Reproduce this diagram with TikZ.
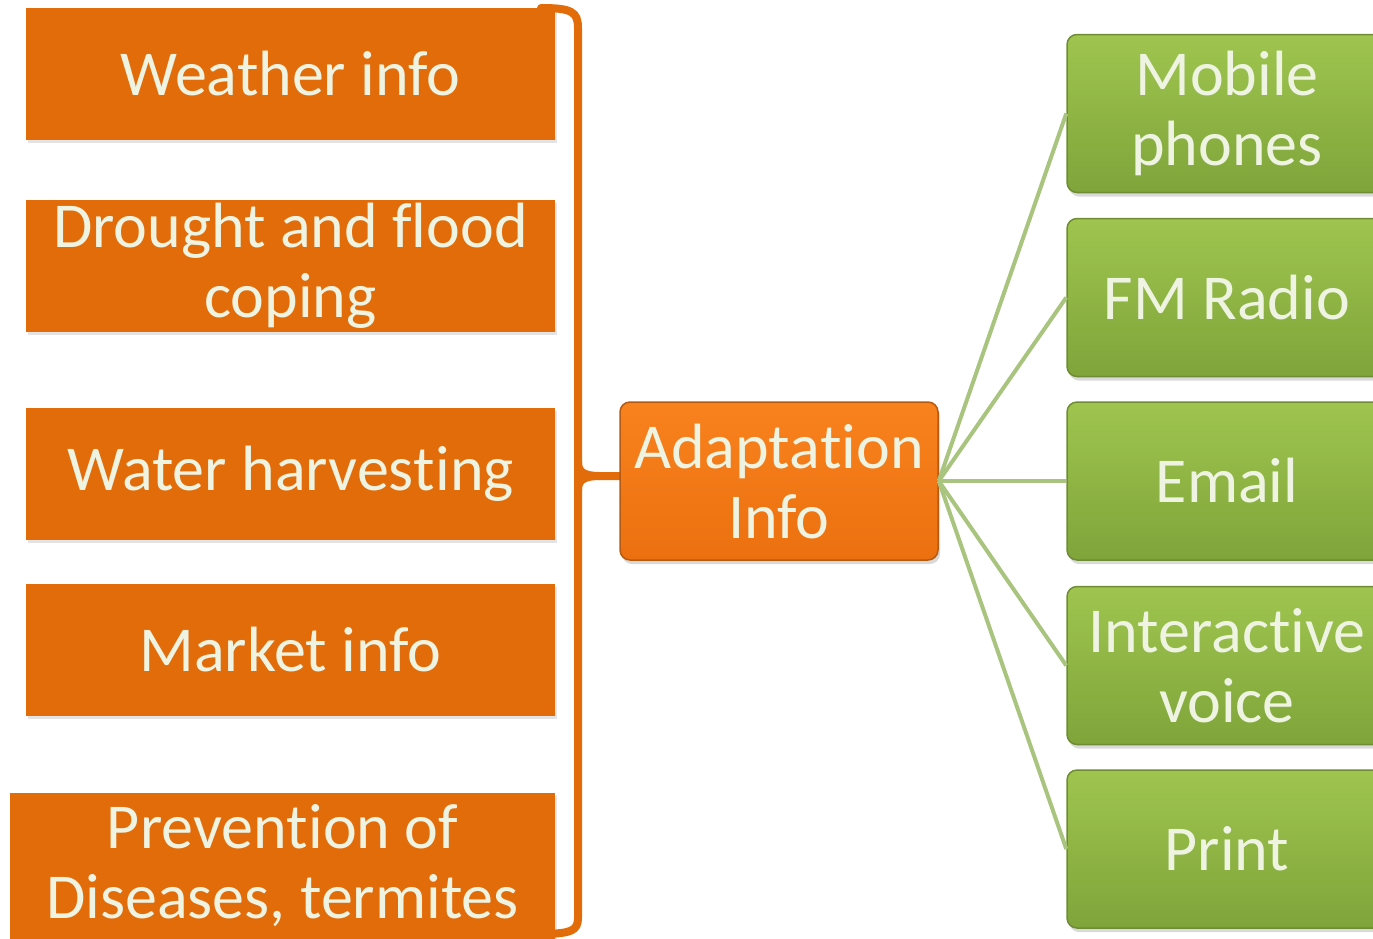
\documentclass[tikz,border=0pt]{standalone}
\usepackage{fontspec}
\setmainfont{Carlito}[RawFeature={-liga;-clig;-calt;-dlig}]
\usetikzlibrary{shadows}
\definecolor{topicorange}{HTML}{E36C0A}
\definecolor{hubtop}{HTML}{F8821E}
\definecolor{hubbot}{HTML}{EC700F}
\definecolor{hubedge}{HTML}{B65A12}
\definecolor{chantop}{HTML}{9FC54F}
\definecolor{chanbot}{HTML}{7FA43A}
\definecolor{chanedge}{HTML}{6F8C35}
\definecolor{linkgreen}{HTML}{A9C47F}
\definecolor{labelcream}{HTML}{EEF3E2}
% zero-width break that keeps letter pairs such as "ti" and "fl" apart
\newcommand\nolig{\kern0pt }
\tikzset{
  label text/.style={text=labelcream, align=center,
    font=\fontsize{64}{70}\selectfont},
  topicbox/.style={label text, fill=topicorange, inner sep=0pt,
    drop shadow={opacity=0.22, shadow xshift=2pt, shadow yshift=-3pt}},
  hubbox/.style={label text, rounded corners=10pt, draw=hubedge, line width=1.5pt,
    top color=hubtop, bottom color=hubbot, minimum width=318pt, minimum height=158pt,
    inner sep=0pt,
    drop shadow={opacity=0.3, shadow xshift=2pt, shadow yshift=-4pt}},
  chanbox/.style={label text, rounded corners=10pt, draw=chanedge, line width=1.5pt,
    top color=chantop, bottom color=chanbot, minimum width=320pt, minimum height=158pt,
    inner sep=0pt,
    drop shadow={opacity=0.3, shadow xshift=2pt, shadow yshift=-4pt}},
  link/.style={draw=linkgreen, line width=4pt},
  brace/.style={draw=topicorange, line width=8pt, line cap=round}
}
\begin{document}
\begin{tikzpicture}[x=1pt,y=-1pt]
\useasboundingbox (0,0) rectangle (1373,938);

% topics on the left
\node[topicbox, minimum width=529pt, minimum height=132pt] (weather) at (290.5,74) {Weather info};
\node[topicbox, minimum width=529pt, minimum height=132pt] (drought) at (290.5,266) {Drought and f\nolig lood\\coping};
\node[topicbox, minimum width=529pt, minimum height=132pt] (water) at (290.5,474) {Water harves\nolig ting};
\node[topicbox, minimum width=529pt, minimum height=132pt] (market) at (290.5,650) {Market info};
\node[topicbox, minimum width=545pt, minimum height=146pt] (disease) at (282.5,866) {Preven\nolig tion of\\Diseases, termites};

% brace gathering the topics
\draw[brace] (541,8) .. controls (572,8) and (578,12) .. (578,28)
  -- (578,918) .. controls (578,931) and (570,933) .. (547,934);
\draw[brace, line cap=butt] (578,462) .. controls (578,472) and (584,476) .. (600,476) -- (622,476);
\draw[brace, line cap=butt] (578,490) .. controls (578,480) and (584,476) .. (600,476);

% central node
\node[hubbox] (hub) at (779,481) {Adapta\nolig tion\\Info};

% channels on the right
\node[chanbox] (mobile) at (1227,113.5) {Mobile\\phones};
\node[chanbox] (fm) at (1227,297.5) {FM Radio};
\node[chanbox] (email) at (1227,481) {Email};
\node[chanbox] (voice) at (1227,665.5) {Interac\nolig tive\\voice};
\node[chanbox] (print) at (1227,849) {Print};

% links from the hub to each channel
\foreach \c in {mobile,fm,email,voice,print}
  \draw[link] (hub.east) -- (\c.west);
\end{tikzpicture}
\end{document}
